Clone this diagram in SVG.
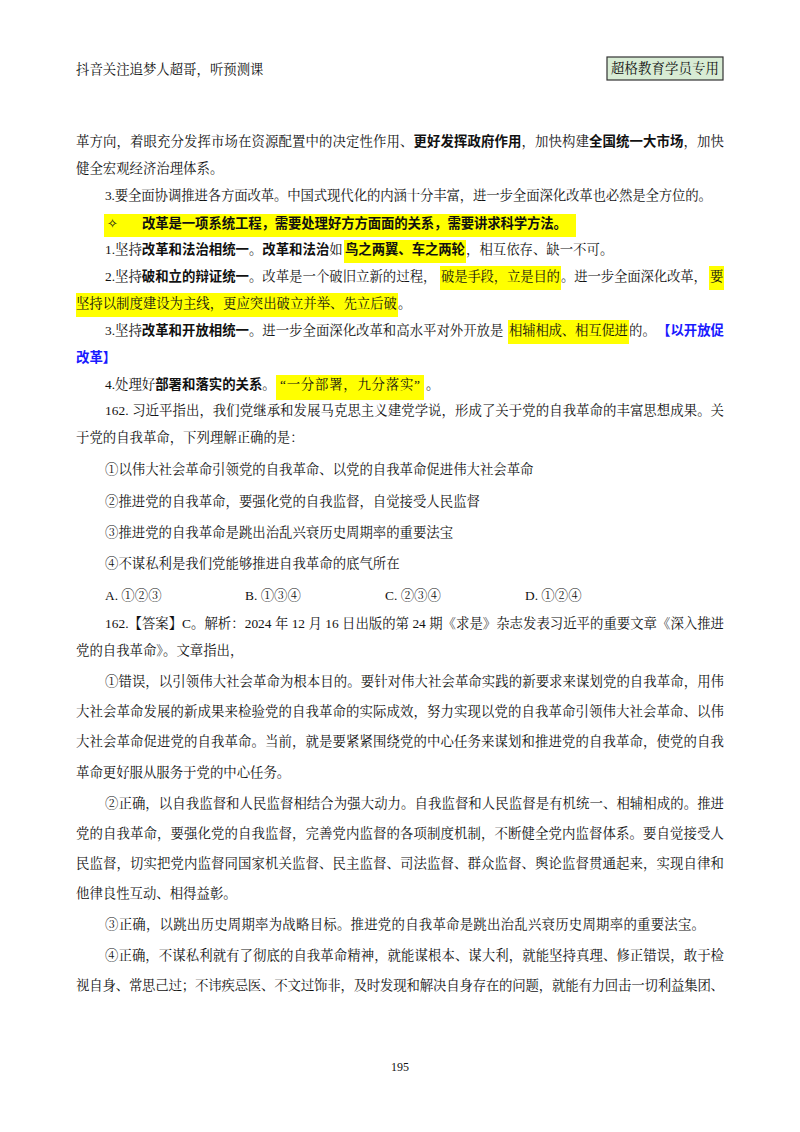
<svg xmlns="http://www.w3.org/2000/svg" width="800" height="1132" viewBox="0 0 800 1132">
<style>
text{font-family:"Liberation Serif","Noto Serif CJK SC","Noto Sans CJK SC",serif;font-size:13.4px;fill:#111}
.b{font-weight:bold;font-family:"Noto Sans CJK SC",sans-serif}
.hl{fill:#ffff00}
.blue{fill:#1a1aff;font-weight:bold;font-family:"Noto Sans CJK SC",sans-serif}
</style>
<rect width="800" height="1132" fill="#fff"/>
<text x="76" y="74">抖音关注追梦人超哥，听预测课</text>
<rect x="607" y="57" width="116" height="23" fill="#d8ecd4" stroke="#333" stroke-width="1.2"/>
<text x="611" y="73" textLength="108" lengthAdjust="spacing">超格教育学员专用</text>
<rect class="hl" x="104" y="214" width="472" height="23"/>
<rect class="hl" x="344" y="240" width="122" height="23"/>
<rect class="hl" x="440" y="266" width="121" height="24"/>
<rect class="hl" x="709" y="266" width="15" height="24"/>
<rect class="hl" x="76" y="293" width="322" height="24"/>
<rect class="hl" x="508" y="320" width="121" height="24"/>
<rect class="hl" x="276" y="375" width="148" height="25"/>
<text x="76" y="146" textLength="648" lengthAdjust="spacing">革方向，着眼充分发挥市场在资源配置中的决定性作用、<tspan class="b">更好发挥政府作用</tspan>，加快构建<tspan class="b">全国统一大市场</tspan>，加快</text>
<text x="76" y="173">健全宏观经济治理体系。</text>
<text x="105" y="200" textLength="607" lengthAdjust="spacing">3.要全面协调推进各方面改革。中国式现代化的内涵十分丰富，进一步全面深化改革也必然是全方位的。</text>
<text x="107" y="228">✧</text>
<text x="142" y="228" class="b" textLength="425" lengthAdjust="spacing">改革是一项系统工程，需要处理好方方面面的关系，需要讲求科学方法。</text>
<text x="105" y="254">1.坚持<tspan class="b">改革和法治相统一</tspan>。<tspan class="b">改革和法治</tspan>如</text>
<text x="345" y="254" class="b" textLength="120" lengthAdjust="spacing">鸟之两翼、车之两轮</text>
<text x="466" y="254">，相互依存、缺一不可。</text>
<text x="105" y="281">2.坚持<tspan class="b">破和立的辩证统一</tspan>。改革是一个破旧立新的过程，</text>
<text x="441" y="281" textLength="119" lengthAdjust="spacing">破是手段，立是目的</text>
<text x="561" y="281" textLength="146" lengthAdjust="spacing">。进一步全面深化改革，</text>
<text x="710" y="281">要</text>
<text x="76" y="308" textLength="321" lengthAdjust="spacing">坚持以制度建设为主线，更应突出破立并举、先立后破</text>
<text x="398" y="308">。</text>
<text x="105" y="335">3.坚持<tspan class="b">改革和开放相统一</tspan>。进一步全面深化改革和高水平对外开放是</text>
<text x="509" y="335" textLength="119" lengthAdjust="spacing">相辅相成、相互促进</text>
<text x="629" y="335">的。</text>
<text x="657" y="335" class="blue" textLength="67" lengthAdjust="spacing">【以开放促</text>
<text x="76" y="362" class="blue">改革】</text>
<text x="105" y="389">4.处理好<tspan class="b">部署和落实的关系</tspan>。</text>
<text x="280" y="389" textLength="140" lengthAdjust="spacing">“一分部署，九分落实”</text>
<text x="426" y="389">。</text>
<text x="105" y="415" textLength="619" lengthAdjust="spacing">162. 习近平指出，我们党继承和发展马克思主义建党学说，形成了关于党的自我革命的丰富思想成果。关</text>
<text x="76" y="442">于党的自我革命，下列理解正确的是：</text>
<text x="105" y="474">①以伟大社会革命引领党的自我革命、以党的自我革命促进伟大社会革命</text>
<text x="105" y="506">②推进党的自我革命，要强化党的自我监督，自觉接受人民监督</text>
<text x="105" y="537">③推进党的自我革命是跳出治乱兴衰历史周期率的重要法宝</text>
<text x="105" y="568">④不谋私利是我们党能够推进自我革命的底气所在</text>
<text x="105" y="600">A. ①②③</text>
<text x="245" y="600">B. ①③④</text>
<text x="385" y="600">C. ②③④</text>
<text x="525" y="600">D. ①②④</text>
<text x="105" y="628" textLength="619" lengthAdjust="spacing">162.【答案】C。解析：2024 年 12 月 16 日出版的第 24 期《求是》杂志发表习近平的重要文章《深入推进</text>
<text x="76" y="655">党的自我革命》。文章指出，</text>
<text x="105" y="686" textLength="619" lengthAdjust="spacing">①错误，以引领伟大社会革命为根本目的。要针对伟大社会革命实践的新要求来谋划党的自我革命，用伟</text>
<text x="76" y="716" textLength="648" lengthAdjust="spacing">大社会革命发展的新成果来检验党的自我革命的实际成效，努力实现以党的自我革命引领伟大社会革命、以伟</text>
<text x="76" y="746" textLength="648" lengthAdjust="spacing">大社会革命促进党的自我革命。当前，就是要紧紧围绕党的中心任务来谋划和推进党的自我革命，使党的自我</text>
<text x="76" y="777">革命更好服从服务于党的中心任务。</text>
<text x="105" y="808" textLength="619" lengthAdjust="spacing">②正确，以自我监督和人民监督相结合为强大动力。自我监督和人民监督是有机统一、相辅相成的。推进</text>
<text x="76" y="838" textLength="648" lengthAdjust="spacing">党的自我革命，要强化党的自我监督，完善党内监督的各项制度机制，不断健全党内监督体系。要自觉接受人</text>
<text x="76" y="868" textLength="648" lengthAdjust="spacing">民监督，切实把党内监督同国家机关监督、民主监督、司法监督、群众监督、舆论监督贯通起来，实现自律和</text>
<text x="76" y="898">他律良性互动、相得益彰。</text>
<text x="105" y="929" textLength="600" lengthAdjust="spacing">③正确，以跳出历史周期率为战略目标。推进党的自我革命是跳出治乱兴衰历史周期率的重要法宝。</text>
<text x="105" y="960" textLength="619" lengthAdjust="spacing">④正确，不谋私利就有了彻底的自我革命精神，就能谋根本、谋大利，就能坚持真理、修正错误，敢于检</text>
<text x="76" y="990" textLength="648" lengthAdjust="spacing">视自身、常思己过；不讳疾忌医、不文过饰非，及时发现和解决自身存在的问题，就能有力回击一切利益集团、</text>
<text x="400" y="1071" text-anchor="middle" style="font-size:12px">195</text>
</svg>
